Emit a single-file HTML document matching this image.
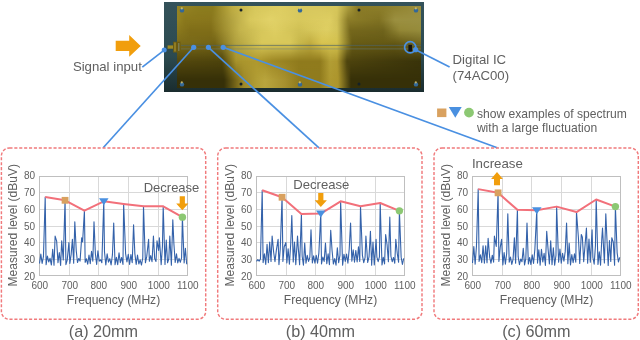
<!DOCTYPE html>
<html><head><meta charset="utf-8"><style>
html,body{margin:0;padding:0;background:#fff;}
body{width:640px;height:340px;overflow:hidden;}
svg{display:block;font-family:"Liberation Sans", sans-serif;will-change:transform;}
</style></head><body>
<svg width="640" height="340" viewBox="0 0 640 340">

<defs><linearGradient id="gR0" gradientUnits="objectBoundingBox" x1="0" x2="1" y1="0" y2="0"><stop offset="0.0000" stop-color="#968424"/><stop offset="0.0943" stop-color="#8c7c1e"/><stop offset="0.1475" stop-color="#8c7c1e"/><stop offset="0.2254" stop-color="#beac42"/><stop offset="0.3197" stop-color="#d7c85c"/><stop offset="0.4221" stop-color="#dece62"/><stop offset="0.5000" stop-color="#d8c85e"/><stop offset="0.5861" stop-color="#d8c85e"/><stop offset="0.6557" stop-color="#d6c65a"/><stop offset="0.7008" stop-color="#aa9b3c"/><stop offset="0.7418" stop-color="#8a7a26"/><stop offset="0.8443" stop-color="#8c7e2a"/><stop offset="1.0000" stop-color="#9b8e3e"/></linearGradient><linearGradient id="gR1" gradientUnits="objectBoundingBox" x1="0" x2="1" y1="0" y2="0"><stop offset="0.0000" stop-color="#968422"/><stop offset="0.0328" stop-color="#8a781c"/><stop offset="0.1393" stop-color="#88761c"/><stop offset="0.2172" stop-color="#b0a03e"/><stop offset="0.2992" stop-color="#d8c85c"/><stop offset="0.3811" stop-color="#e2d268"/><stop offset="0.5000" stop-color="#d8c85c"/><stop offset="0.6270" stop-color="#dece62"/><stop offset="0.6557" stop-color="#d2c258"/><stop offset="0.7008" stop-color="#8c7d28"/><stop offset="0.8279" stop-color="#807222"/><stop offset="0.8934" stop-color="#9c9040"/><stop offset="1.0000" stop-color="#9a9042"/></linearGradient><linearGradient id="gR2" gradientUnits="objectBoundingBox" x1="0" x2="1" y1="0" y2="0"><stop offset="0.0000" stop-color="#8c7a1e"/><stop offset="0.0533" stop-color="#806e18"/><stop offset="0.1393" stop-color="#806e18"/><stop offset="0.2582" stop-color="#c4b44c"/><stop offset="0.3402" stop-color="#d6c65a"/><stop offset="0.4016" stop-color="#dece62"/><stop offset="0.5000" stop-color="#d0c054"/><stop offset="0.6148" stop-color="#dece62"/><stop offset="0.6557" stop-color="#d4c458"/><stop offset="0.7090" stop-color="#76681c"/><stop offset="0.8443" stop-color="#70641c"/><stop offset="0.9139" stop-color="#948836"/><stop offset="1.0000" stop-color="#968c3c"/></linearGradient><linearGradient id="gR3" gradientUnits="objectBoundingBox" x1="0" x2="1" y1="0" y2="0"><stop offset="0.0000" stop-color="#7c6c1a"/><stop offset="0.1557" stop-color="#746416"/><stop offset="0.2377" stop-color="#b0a03e"/><stop offset="0.3484" stop-color="#d8c85a"/><stop offset="0.4631" stop-color="#d8c85a"/><stop offset="0.5000" stop-color="#c8b84c"/><stop offset="0.5451" stop-color="#c0ac40"/><stop offset="0.5943" stop-color="#d8c450"/><stop offset="0.6557" stop-color="#d4c24e"/><stop offset="0.7172" stop-color="#685c16"/><stop offset="0.8934" stop-color="#645814"/><stop offset="1.0000" stop-color="#746822"/></linearGradient><linearGradient id="gR4" gradientUnits="objectBoundingBox" x1="0" x2="1" y1="0" y2="0"><stop offset="0.0000" stop-color="#54480e"/><stop offset="0.1844" stop-color="#4e440c"/><stop offset="0.2418" stop-color="#a8932b"/><stop offset="0.2828" stop-color="#ac972e"/><stop offset="0.3279" stop-color="#af992e"/><stop offset="0.3893" stop-color="#9f8925"/><stop offset="0.5000" stop-color="#907b1d"/><stop offset="0.5861" stop-color="#907b1d"/><stop offset="0.6270" stop-color="#b29e35"/><stop offset="0.6557" stop-color="#af9930"/><stop offset="0.6967" stop-color="#4e440e"/><stop offset="1.0000" stop-color="#3a340a"/></linearGradient><linearGradient id="gR5" gradientUnits="objectBoundingBox" x1="0" x2="1" y1="0" y2="0"><stop offset="0.0000" stop-color="#363008"/><stop offset="0.1926" stop-color="#363008"/><stop offset="0.2418" stop-color="#786719"/><stop offset="0.2746" stop-color="#9e8929"/><stop offset="0.3279" stop-color="#b29e35"/><stop offset="0.3607" stop-color="#b9a53d"/><stop offset="0.4426" stop-color="#a6902e"/><stop offset="0.5000" stop-color="#907b1d"/><stop offset="0.5861" stop-color="#907b1d"/><stop offset="0.6270" stop-color="#af9930"/><stop offset="0.6598" stop-color="#ac952c"/><stop offset="0.7131" stop-color="#363008"/><stop offset="1.0000" stop-color="#363008"/></linearGradient><linearGradient id="mR1G" gradientUnits="userSpaceOnUse" x1="0" x2="0" y1="8" y2="20"><stop offset="0" stop-color="#fff" stop-opacity="0"/><stop offset="1" stop-color="#fff" stop-opacity="1"/></linearGradient><mask id="mR1" maskUnits="userSpaceOnUse" x="177" y="6" width="244" height="83"><rect x="177" y="6" width="244" height="83" fill="url(#mR1G)"/></mask><linearGradient id="mR2G" gradientUnits="userSpaceOnUse" x1="0" x2="0" y1="20" y2="30"><stop offset="0" stop-color="#fff" stop-opacity="0"/><stop offset="1" stop-color="#fff" stop-opacity="1"/></linearGradient><mask id="mR2" maskUnits="userSpaceOnUse" x="177" y="6" width="244" height="83"><rect x="177" y="6" width="244" height="83" fill="url(#mR2G)"/></mask><linearGradient id="mR3G" gradientUnits="userSpaceOnUse" x1="0" x2="0" y1="30" y2="43"><stop offset="0" stop-color="#fff" stop-opacity="0"/><stop offset="1" stop-color="#fff" stop-opacity="1"/></linearGradient><mask id="mR3" maskUnits="userSpaceOnUse" x="177" y="6" width="244" height="83"><rect x="177" y="6" width="244" height="83" fill="url(#mR3G)"/></mask><linearGradient id="mR4G" gradientUnits="userSpaceOnUse" x1="0" x2="0" y1="43" y2="61"><stop offset="0" stop-color="#fff" stop-opacity="0"/><stop offset="1" stop-color="#fff" stop-opacity="1"/></linearGradient><mask id="mR4" maskUnits="userSpaceOnUse" x="177" y="6" width="244" height="83"><rect x="177" y="6" width="244" height="83" fill="url(#mR4G)"/></mask><linearGradient id="mR5G" gradientUnits="userSpaceOnUse" x1="0" x2="0" y1="61" y2="80"><stop offset="0" stop-color="#fff" stop-opacity="0"/><stop offset="1" stop-color="#fff" stop-opacity="1"/></linearGradient><mask id="mR5" maskUnits="userSpaceOnUse" x="177" y="6" width="244" height="83"><rect x="177" y="6" width="244" height="83" fill="url(#mR5G)"/></mask><linearGradient id="brd" x1="0" x2="0" y1="0" y2="1"><stop offset="0" stop-color="#34525a"/><stop offset="0.6" stop-color="#2c4a50"/><stop offset="1" stop-color="#1a2c2e"/></linearGradient></defs>
<rect x="164" y="2" width="260" height="90" fill="url(#brd)"/>
<rect x="177" y="6" width="244" height="82" fill="url(#gR0)"/><rect x="177" y="6" width="244" height="82" fill="url(#gR1)" mask="url(#mR1)"/><rect x="177" y="6" width="244" height="82" fill="url(#gR2)" mask="url(#mR2)"/><rect x="177" y="6" width="244" height="82" fill="url(#gR3)" mask="url(#mR3)"/><rect x="177" y="6" width="244" height="82" fill="url(#gR4)" mask="url(#mR4)"/><rect x="177" y="6" width="244" height="82" fill="url(#gR5)" mask="url(#mR5)"/>
<line x1="181" x2="421" y1="45.4" y2="45.4" stroke="#4e6466" stroke-width="0.9" opacity="0.75"/>
<line x1="181" x2="421" y1="48.9" y2="48.9" stroke="#6a8080" stroke-width="0.8" opacity="0.6"/>
<circle cx="182" cy="10.4" r="2.2" fill="#336898"/><circle cx="181.8" cy="8.4" r="1.1" fill="#e8d070" opacity="0.75"/><circle cx="182" cy="84.4" r="2.2" fill="#336898"/><circle cx="181.8" cy="82.4" r="1.1" fill="#e8d070" opacity="0.75"/><circle cx="300" cy="10.4" r="2.2" fill="#336898"/><circle cx="299.8" cy="8.4" r="1.1" fill="#e8d070" opacity="0.75"/><circle cx="300" cy="84.4" r="2.2" fill="#336898"/><circle cx="299.8" cy="82.4" r="1.1" fill="#e8d070" opacity="0.75"/><circle cx="416" cy="10.4" r="2.2" fill="#336898"/><circle cx="415.8" cy="8.4" r="1.1" fill="#e8d070" opacity="0.75"/><circle cx="416" cy="84.4" r="2.2" fill="#336898"/><circle cx="415.8" cy="82.4" r="1.1" fill="#e8d070" opacity="0.75"/><circle cx="241" cy="10" r="1.5" fill="#142028"/><circle cx="241" cy="84" r="1.5" fill="#142028"/><circle cx="359" cy="10" r="1.5" fill="#142028"/><circle cx="359" cy="84" r="1.5" fill="#142028"/><rect x="167.6" y="45.4" width="5.6" height="3.3" fill="#a08a22"/><rect x="173.1" y="41.7" width="7.4" height="10.8" fill="#6a5a12"/><rect x="174" y="42.5" width="2" height="9" fill="#9a8428" opacity="0.8"/><rect x="178" y="43" width="1.5" height="8" fill="#8a9a90" opacity="0.5"/><rect x="408.4" y="44.8" width="3.6" height="6.7" fill="#111"/>

<circle cx="410.2" cy="47.3" r="5.6" fill="none" stroke="#4a90e2" stroke-width="1.7"/>
<line x1="164.2" y1="50.1" x2="142.3" y2="67.2" stroke="#4a90e2" stroke-width="1.7"/>
<line x1="193.7" y1="47.3" x2="103.2" y2="147.8" stroke="#4a90e2" stroke-width="1.7"/>
<line x1="208.4" y1="47.3" x2="319" y2="147.8" stroke="#4a90e2" stroke-width="1.7"/>
<line x1="223.2" y1="47.3" x2="497.2" y2="147.8" stroke="#4a90e2" stroke-width="1.7"/>
<line x1="415.6" y1="49.7" x2="449.6" y2="66.9" stroke="#4a90e2" stroke-width="1.7"/>
<circle cx="164.2" cy="50.1" r="2.5" fill="#4a90e2"/>
<circle cx="193.7" cy="47.3" r="2.6" fill="#4a90e2"/>
<circle cx="208.4" cy="47.3" r="2.6" fill="#4a90e2"/>
<circle cx="223.2" cy="47.3" r="2.6" fill="#4a90e2"/>
<circle cx="415.6" cy="49.7" r="2.6" fill="#4a90e2"/>

<path d="M115.7,40.8 L129.2,40.8 L129.2,35.1 L140.7,45.9 L129.2,56.7 L129.2,51 L115.7,51 Z" fill="#f19e0d"/>

<text x="72.9" y="71" font-size="13.2" fill="#606060">Signal input</text>
<text x="452.6" y="64.1" font-size="13.2" fill="#606060">Digital IC</text>
<text x="452.6" y="79.8" font-size="13.2" fill="#606060">(74AC00)</text>
<rect x="437.1" y="108.5" width="9.3" height="8.6" fill="#d9a15f"/>
<path d="M448.8,107.1 L461.7,107.1 L455.3,117.7 Z" fill="#4a90e0"/>
<circle cx="469" cy="112.6" r="4.9" fill="#8cc873"/>
<text x="476.9" y="117.5" font-size="12.1" fill="#606060">show examples of spectrum</text>
<text x="476.9" y="132.0" font-size="12.1" fill="#606060">with a large fluctuation</text>

<rect x="1.4" y="148" width="204.3" height="171.3" rx="8" ry="8" fill="none" stroke="#f07a7c" stroke-width="1.45" stroke-dasharray="3.1 1.8"/>
<g transform="translate(0,0)">
<line x1="39.5" x2="187.5" y1="259.50" y2="259.50" stroke="#d9d9d9" stroke-width="1"/>
<line x1="39.5" x2="187.5" y1="242.50" y2="242.50" stroke="#d9d9d9" stroke-width="1"/>
<line x1="39.5" x2="187.5" y1="226.50" y2="226.50" stroke="#d9d9d9" stroke-width="1"/>
<line x1="39.5" x2="187.5" y1="209.50" y2="209.50" stroke="#d9d9d9" stroke-width="1"/>
<line x1="39.5" x2="187.5" y1="192.50" y2="192.50" stroke="#d9d9d9" stroke-width="1"/>
<line x1="69.50" x2="69.50" y1="176.5" y2="275.5" stroke="#d9d9d9" stroke-width="1"/>
<line x1="98.50" x2="98.50" y1="176.5" y2="275.5" stroke="#d9d9d9" stroke-width="1"/>
<line x1="128.50" x2="128.50" y1="176.5" y2="275.5" stroke="#d9d9d9" stroke-width="1"/>
<line x1="158.50" x2="158.50" y1="176.5" y2="275.5" stroke="#d9d9d9" stroke-width="1"/>
<rect x="39.5" y="176.5" width="148.00" height="99.00" fill="none" stroke="#bfbfbf" stroke-width="1"/>
<text x="35.1" y="280.20" text-anchor="end" font-size="10" fill="#606060">20</text>
<text x="35.1" y="263.30" text-anchor="end" font-size="10" fill="#606060">30</text>
<text x="35.1" y="246.40" text-anchor="end" font-size="10" fill="#606060">40</text>
<text x="35.1" y="229.50" text-anchor="end" font-size="10" fill="#606060">50</text>
<text x="35.1" y="212.60" text-anchor="end" font-size="10" fill="#606060">60</text>
<text x="35.1" y="195.70" text-anchor="end" font-size="10" fill="#606060">70</text>
<text x="35.1" y="178.80" text-anchor="end" font-size="10" fill="#606060">80</text>
<text x="39.80" y="289" text-anchor="middle" font-size="10" fill="#606060">600</text>
<text x="69.80" y="289" text-anchor="middle" font-size="10" fill="#606060">700</text>
<text x="98.80" y="289" text-anchor="middle" font-size="10" fill="#606060">800</text>
<text x="128.80" y="289" text-anchor="middle" font-size="10" fill="#606060">900</text>
<text x="158.80" y="289" text-anchor="middle" font-size="10" fill="#606060">1000</text>
<text x="187.80" y="289" text-anchor="middle" font-size="10" fill="#606060">1100</text>
<text x="113.5" y="303.6" text-anchor="middle" font-size="12.1" fill="#606060">Frequency (MHz)</text>
<text transform="translate(17.4,225.2) rotate(-90)" x="0" y="0" text-anchor="middle" font-size="12.05" fill="#606060">Measured level (dBuV)</text>
<text x="103.4" y="336.5" text-anchor="middle" font-size="16.2" fill="#606060">(a) 20mm</text>
<path d="M39.50,263.47 L40.82,254.07 L42.14,263.41 L43.46,256.36 L45.20,197.09 L46.10,264.62 L47.42,256.07 L48.74,261.99 L50.06,258.29 L51.38,265.03 L52.70,249.42 L54.02,265.24 L55.13,236.10 L56.66,241.13 L57.98,262.60 L59.30,252.61 L60.62,265.36 L61.70,240.90 L63.26,259.92 L65.06,200.32 L65.90,264.60 L67.22,260.11 L68.90,242.50 L69.85,263.42 L71.12,254.62 L72.40,239.30 L73.68,263.18 L74.81,221.74 L76.23,250.58 L77.50,262.56 L78.78,258.46 L80.06,261.11 L81.68,237.70 L82.61,241.92 L84.41,210.69 L85.16,262.36 L86.44,258.79 L87.71,264.17 L88.99,255.14 L90.26,263.69 L91.54,251.25 L92.82,261.28 L94.00,221.74 L95.37,253.55 L96.64,264.51 L97.92,250.75 L99.22,261.18 L100.54,259.83 L101.86,262.70 L103.78,201.34 L104.50,251.94 L105.82,265.04 L107.14,253.79 L108.46,262.15 L109.78,258.67 L111.10,264.98 L112.42,254.93 L113.71,223.10 L115.06,264.65 L116.38,257.31 L117.70,264.60 L119.02,252.77 L120.34,262.64 L121.66,257.49 L122.98,264.50 L123.64,203.89 L125.62,253.75 L126.94,261.95 L128.26,254.33 L129.58,264.51 L130.90,254.54 L132.22,262.65 L133.57,224.80 L134.86,253.62 L136.18,264.50 L137.50,255.10 L138.82,264.00 L140.14,259.83 L141.46,265.03 L142.78,257.85 L143.50,206.27 L145.42,262.82 L146.74,256.42 L148.60,239.30 L149.38,261.28 L150.70,255.59 L152.02,261.68 L153.43,236.10 L154.66,258.45 L155.98,261.50 L157.00,240.90 L158.62,250.37 L159.37,237.70 L161.17,264.60 L162.44,246.25 L163.20,206.27 L165.00,264.57 L166.27,240.05 L167.55,262.81 L168.82,258.79 L169.81,236.10 L171.38,265.25 L172.80,219.70 L173.93,244.28 L175.20,262.38 L176.48,253.90 L177.76,262.84 L179.03,258.31 L180.31,262.31 L181.58,257.95 L182.40,217.15 L184.14,263.00 L185.41,248.19 L186.69,264.21" fill="none" stroke="#3462aa" stroke-width="1.1" stroke-linejoin="round"/>
<path d="M45.20,197.09 L65.06,200.32 L84.41,210.69 L103.78,201.34 L123.64,203.89 L143.50,206.27 L163.20,206.27 L182.40,217.15" fill="none" stroke="#f2707a" stroke-width="2" stroke-linejoin="round"/>
<rect x="61.66" y="196.92" width="6.8" height="6.8" fill="#d9a15f"/>
<path d="M98.98,198.34 L108.58,198.34 L103.78,205.34 Z" fill="#4a90e0"/>
<circle cx="182.40" cy="217.15" r="3.7" fill="#8cc873"/>
<text x="143.7" y="191.5" font-size="13" fill="#606060">Decrease</text><path d="M179.70,196.3 L184.90,196.3 L184.90,203.50 L188.40,203.50 L182.30,210.3 L176.20,203.50 L179.70,203.50 Z" fill="#f19e0d"/>
</g><rect x="217.70000000000002" y="148" width="204.3" height="171.3" rx="8" ry="8" fill="none" stroke="#f07a7c" stroke-width="1.45" stroke-dasharray="3.1 1.8"/>
<g transform="translate(217,0)">
<line x1="39.5" x2="187.5" y1="259.50" y2="259.50" stroke="#d9d9d9" stroke-width="1"/>
<line x1="39.5" x2="187.5" y1="242.50" y2="242.50" stroke="#d9d9d9" stroke-width="1"/>
<line x1="39.5" x2="187.5" y1="226.50" y2="226.50" stroke="#d9d9d9" stroke-width="1"/>
<line x1="39.5" x2="187.5" y1="209.50" y2="209.50" stroke="#d9d9d9" stroke-width="1"/>
<line x1="39.5" x2="187.5" y1="192.50" y2="192.50" stroke="#d9d9d9" stroke-width="1"/>
<line x1="69.50" x2="69.50" y1="176.5" y2="275.5" stroke="#d9d9d9" stroke-width="1"/>
<line x1="98.50" x2="98.50" y1="176.5" y2="275.5" stroke="#d9d9d9" stroke-width="1"/>
<line x1="128.50" x2="128.50" y1="176.5" y2="275.5" stroke="#d9d9d9" stroke-width="1"/>
<line x1="158.50" x2="158.50" y1="176.5" y2="275.5" stroke="#d9d9d9" stroke-width="1"/>
<rect x="39.5" y="176.5" width="148.00" height="99.00" fill="none" stroke="#bfbfbf" stroke-width="1"/>
<text x="35.1" y="280.20" text-anchor="end" font-size="10" fill="#606060">20</text>
<text x="35.1" y="263.30" text-anchor="end" font-size="10" fill="#606060">30</text>
<text x="35.1" y="246.40" text-anchor="end" font-size="10" fill="#606060">40</text>
<text x="35.1" y="229.50" text-anchor="end" font-size="10" fill="#606060">50</text>
<text x="35.1" y="212.60" text-anchor="end" font-size="10" fill="#606060">60</text>
<text x="35.1" y="195.70" text-anchor="end" font-size="10" fill="#606060">70</text>
<text x="35.1" y="178.80" text-anchor="end" font-size="10" fill="#606060">80</text>
<text x="39.80" y="289" text-anchor="middle" font-size="10" fill="#606060">600</text>
<text x="69.80" y="289" text-anchor="middle" font-size="10" fill="#606060">700</text>
<text x="98.80" y="289" text-anchor="middle" font-size="10" fill="#606060">800</text>
<text x="128.80" y="289" text-anchor="middle" font-size="10" fill="#606060">900</text>
<text x="158.80" y="289" text-anchor="middle" font-size="10" fill="#606060">1000</text>
<text x="187.80" y="289" text-anchor="middle" font-size="10" fill="#606060">1100</text>
<text x="113.5" y="303.6" text-anchor="middle" font-size="12.1" fill="#606060">Frequency (MHz)</text>
<text transform="translate(17.4,225.2) rotate(-90)" x="0" y="0" text-anchor="middle" font-size="12.05" fill="#606060">Measured level (dBuV)</text>
<text x="103.4" y="336.5" text-anchor="middle" font-size="16.2" fill="#606060">(b) 40mm</text>
<path d="M39.50,261.28 L40.82,259.67 L42.14,261.11 L43.46,259.02 L45.20,190.26 L46.10,262.61 L47.42,253.79 L48.74,264.42 L50.06,244.41 L51.38,262.82 L52.70,241.95 L54.02,261.43 L55.13,236.10 L56.66,252.24 L57.98,261.61 L59.30,250.68 L61.10,239.30 L61.94,264.60 L63.26,249.06 L65.06,197.26 L65.90,261.37 L67.22,246.81 L68.90,242.50 L69.85,262.97 L71.12,248.89 L72.40,264.30 L73.68,244.46 L74.81,215.45 L76.23,262.05 L77.50,242.17 L78.78,264.81 L80.52,236.10 L81.33,248.56 L82.61,264.62 L84.41,214.09 L85.16,256.22 L86.44,265.28 L87.71,243.14 L88.99,263.19 L90.26,255.35 L91.54,261.46 L92.82,257.30 L94.00,229.70 L95.37,262.90 L96.64,255.79 L97.92,263.07 L99.22,255.26 L100.54,263.14 L101.86,253.06 L103.78,213.58 L104.50,263.88 L105.82,257.10 L107.14,261.40 L108.46,243.10 L109.78,263.69 L111.10,253.75 L112.42,264.68 L113.71,230.18 L115.06,250.45 L116.38,264.00 L117.70,258.54 L119.02,265.26 L120.34,247.79 L121.66,262.62 L122.98,255.12 L123.64,201.34 L125.62,265.19 L126.94,254.21 L128.26,261.44 L129.58,254.08 L130.90,263.27 L132.22,249.05 L133.57,223.10 L134.86,261.14 L136.18,249.72 L137.50,262.28 L138.82,250.43 L140.14,262.03 L141.46,246.87 L142.78,261.35 L143.50,206.27 L145.42,255.42 L146.74,262.68 L148.06,257.65 L148.90,236.10 L150.70,262.43 L152.02,256.99 L153.43,231.30 L154.66,265.24 L155.98,242.17 L157.30,264.91 L159.08,239.30 L159.89,257.09 L161.17,261.68 L162.44,256.94 L163.20,203.04 L165.00,265.00 L166.27,257.41 L167.55,263.93 L168.65,234.50 L170.10,244.99 L171.38,261.82 L172.80,217.15 L173.93,256.25 L175.20,261.75 L176.48,257.44 L177.76,263.30 L178.80,239.30 L180.31,253.72 L181.58,262.32 L182.40,210.86 L184.14,257.13 L185.41,264.42 L186.69,258.38" fill="none" stroke="#3462aa" stroke-width="1.1" stroke-linejoin="round"/>
<path d="M45.20,190.26 L65.06,197.26 L84.41,214.09 L103.78,213.58 L123.64,201.34 L143.50,206.27 L163.20,203.04 L182.40,210.86" fill="none" stroke="#f2707a" stroke-width="2" stroke-linejoin="round"/>
<rect x="61.66" y="193.86" width="6.8" height="6.8" fill="#d9a15f"/>
<path d="M98.98,210.58 L108.58,210.58 L103.78,217.58 Z" fill="#4a90e0"/>
<circle cx="182.40" cy="210.86" r="3.7" fill="#8cc873"/>
<text x="76.30" y="188.5" font-size="13.1" fill="#606060">Decrease</text><path d="M101.20,193 L106.40,193 L106.40,200.30 L109.90,200.30 L103.80,207.1 L97.70,200.30 L101.20,200.30 Z" fill="#f19e0d"/>
</g><rect x="434.0" y="148" width="204.3" height="171.3" rx="8" ry="8" fill="none" stroke="#f07a7c" stroke-width="1.45" stroke-dasharray="3.1 1.8"/>
<g transform="translate(433,0)">
<line x1="39.5" x2="187.5" y1="259.50" y2="259.50" stroke="#d9d9d9" stroke-width="1"/>
<line x1="39.5" x2="187.5" y1="242.50" y2="242.50" stroke="#d9d9d9" stroke-width="1"/>
<line x1="39.5" x2="187.5" y1="226.50" y2="226.50" stroke="#d9d9d9" stroke-width="1"/>
<line x1="39.5" x2="187.5" y1="209.50" y2="209.50" stroke="#d9d9d9" stroke-width="1"/>
<line x1="39.5" x2="187.5" y1="192.50" y2="192.50" stroke="#d9d9d9" stroke-width="1"/>
<line x1="69.50" x2="69.50" y1="176.5" y2="275.5" stroke="#d9d9d9" stroke-width="1"/>
<line x1="98.50" x2="98.50" y1="176.5" y2="275.5" stroke="#d9d9d9" stroke-width="1"/>
<line x1="128.50" x2="128.50" y1="176.5" y2="275.5" stroke="#d9d9d9" stroke-width="1"/>
<line x1="158.50" x2="158.50" y1="176.5" y2="275.5" stroke="#d9d9d9" stroke-width="1"/>
<rect x="39.5" y="176.5" width="148.00" height="99.00" fill="none" stroke="#bfbfbf" stroke-width="1"/>
<text x="35.1" y="280.20" text-anchor="end" font-size="10" fill="#606060">20</text>
<text x="35.1" y="263.30" text-anchor="end" font-size="10" fill="#606060">30</text>
<text x="35.1" y="246.40" text-anchor="end" font-size="10" fill="#606060">40</text>
<text x="35.1" y="229.50" text-anchor="end" font-size="10" fill="#606060">50</text>
<text x="35.1" y="212.60" text-anchor="end" font-size="10" fill="#606060">60</text>
<text x="35.1" y="195.70" text-anchor="end" font-size="10" fill="#606060">70</text>
<text x="35.1" y="178.80" text-anchor="end" font-size="10" fill="#606060">80</text>
<text x="39.80" y="289" text-anchor="middle" font-size="10" fill="#606060">600</text>
<text x="69.80" y="289" text-anchor="middle" font-size="10" fill="#606060">700</text>
<text x="98.80" y="289" text-anchor="middle" font-size="10" fill="#606060">800</text>
<text x="128.80" y="289" text-anchor="middle" font-size="10" fill="#606060">900</text>
<text x="158.80" y="289" text-anchor="middle" font-size="10" fill="#606060">1000</text>
<text x="187.80" y="289" text-anchor="middle" font-size="10" fill="#606060">1100</text>
<text x="113.5" y="303.6" text-anchor="middle" font-size="12.1" fill="#606060">Frequency (MHz)</text>
<text transform="translate(17.4,225.2) rotate(-90)" x="0" y="0" text-anchor="middle" font-size="12.05" fill="#606060">Measured level (dBuV)</text>
<text x="103.4" y="336.5" text-anchor="middle" font-size="16.2" fill="#606060">(c) 60mm</text>
<path d="M39.50,262.96 L40.82,246.65 L42.14,264.22 L43.46,246.21 L45.20,189.14 L46.10,261.49 L47.42,254.90 L48.74,262.75 L50.06,245.76 L51.38,263.14 L52.70,245.90 L54.02,262.67 L55.13,238.18 L56.66,257.23 L57.98,263.28 L59.30,255.20 L60.62,262.24 L61.40,236.10 L63.26,246.47 L65.06,192.84 L65.90,261.41 L67.22,247.46 L68.60,239.30 L69.85,264.91 L71.12,252.67 L72.40,264.19 L73.68,253.23 L74.81,213.75 L76.23,262.18 L77.50,257.14 L78.78,264.37 L80.06,259.29 L81.39,237.70 L82.61,263.15 L84.41,209.84 L85.16,256.65 L86.44,264.62 L87.71,259.11 L88.99,261.65 L90.26,248.18 L91.54,264.89 L92.82,258.52 L94.00,223.10 L95.37,264.05 L96.64,257.46 L97.92,264.54 L99.22,254.88 L100.54,263.44 L101.86,249.38 L103.78,210.35 L104.50,263.09 L105.82,249.68 L107.14,265.12 L108.46,249.25 L109.78,262.05 L111.10,253.40 L112.42,265.36 L113.71,231.30 L115.06,248.87 L116.38,264.06 L117.70,240.89 L119.02,264.71 L120.34,247.87 L121.66,265.28 L122.98,255.24 L123.64,206.61 L125.62,262.27 L126.94,249.00 L128.26,263.23 L129.58,253.37 L130.90,261.27 L132.22,251.39 L133.57,223.10 L134.86,263.70 L136.18,243.35 L137.50,264.96 L138.82,254.49 L140.14,262.73 L141.46,253.90 L142.78,262.13 L143.50,212.05 L145.42,237.82 L146.74,263.55 L148.30,234.50 L149.38,237.22 L150.70,261.67 L152.02,245.64 L153.43,228.10 L154.66,263.21 L155.98,239.14 L157.30,262.30 L159.08,229.70 L159.89,257.51 L161.17,264.25 L162.44,245.72 L163.20,199.47 L165.00,264.56 L166.27,251.68 L167.55,265.11 L168.82,238.20 L169.52,228.10 L171.38,262.94 L172.80,213.75 L173.93,238.79 L175.20,265.39 L176.48,240.49 L177.76,261.46 L178.80,237.70 L180.31,242.26 L181.58,265.25 L182.40,206.61 L184.14,252.83 L185.41,262.00 L186.69,257.37" fill="none" stroke="#3462aa" stroke-width="1.1" stroke-linejoin="round"/>
<path d="M45.20,189.14 L65.06,192.84 L84.41,209.84 L103.78,210.35 L123.64,206.61 L143.50,212.05 L163.20,199.47 L182.40,206.61" fill="none" stroke="#f2707a" stroke-width="2" stroke-linejoin="round"/>
<rect x="61.66" y="189.44" width="6.8" height="6.8" fill="#d9a15f"/>
<path d="M98.98,207.35 L108.58,207.35 L103.78,214.35 Z" fill="#4a90e0"/>
<circle cx="182.40" cy="206.61" r="3.7" fill="#8cc873"/>
<text x="38.90" y="167.6" font-size="13.3" fill="#606060">Increase</text><path d="M61.00,185.3 L67.00,185.3 L67.00,179.10 L69.90,179.10 L64.00,172.1 L58.10,179.10 L61.00,179.10 Z" fill="#f19e0d"/>
</g>
</svg>
</body></html>
